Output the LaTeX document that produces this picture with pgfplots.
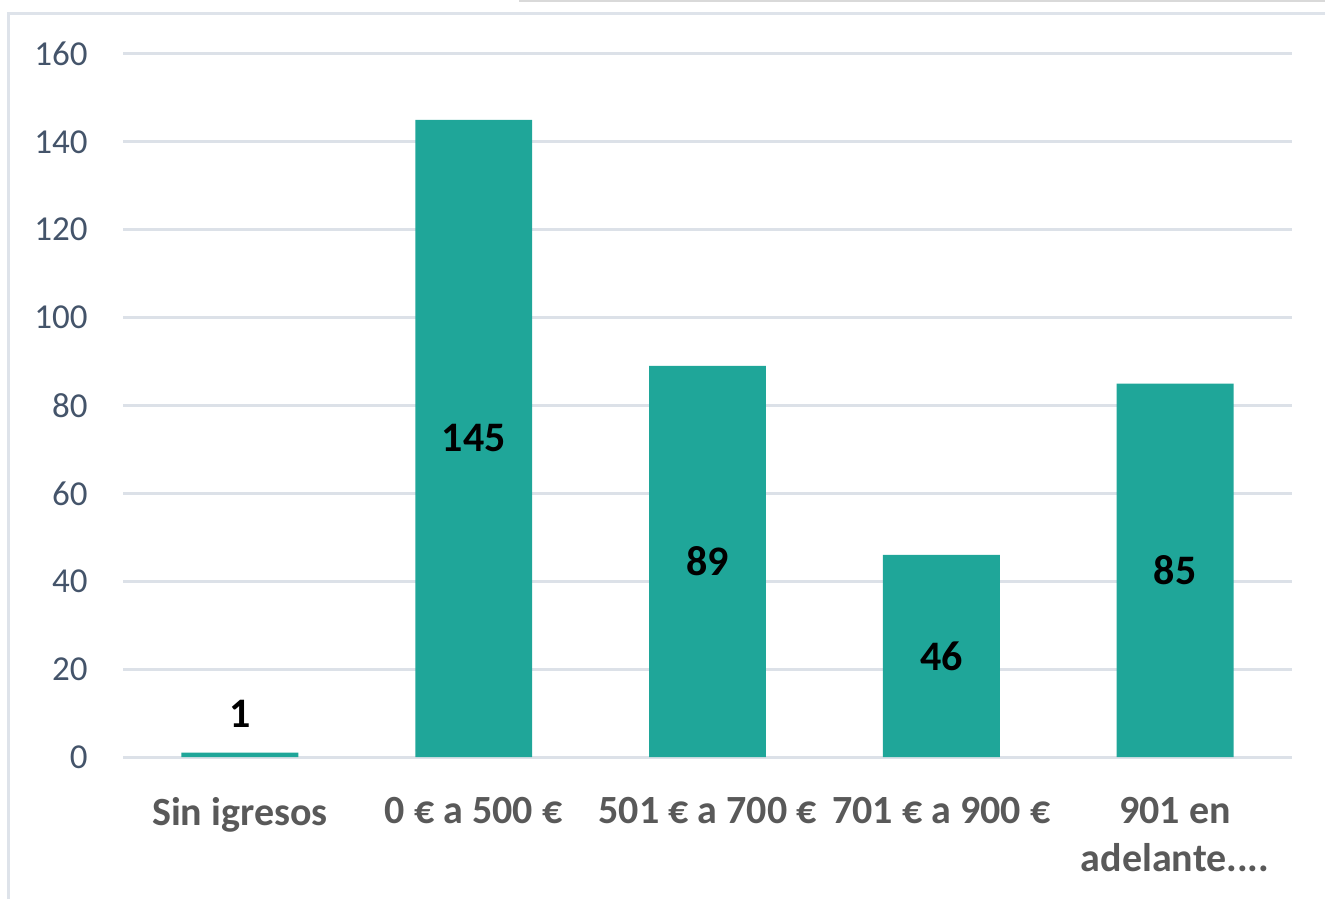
\documentclass[border=0pt]{standalone}
\usepackage{pgfplots}
\pgfplotsset{compat=1.18}
\usepackage{fontspec}
\setmainfont{Carlito}
\definecolor{barc}{HTML}{1FA699}
\definecolor{gridc}{HTML}{DCE1E8}
\definecolor{ytc}{HTML}{44546A}
\definecolor{xtc}{HTML}{595959}
\definecolor{framec}{HTML}{DEE3EA}
\begin{document}
\begin{tikzpicture}[x=1pt,y=1pt]
\useasboundingbox (0,0) rectangle (662.5,449.5);
\draw[framec, line width=1.5pt] (4,0) -- (4,442.5) -- (662.5,442.5);
\draw[gray!30, line width=1.5pt] (259.5,449) -- (662.5,449);
\begin{axis}[
  at={(61.5pt,71pt)}, anchor=south west,
  scale only axis, width=584.5pt, height=351.5pt,
  xmin=-0.5, xmax=4.5, ymin=0, ymax=160,
  ytick={0,20,40,60,80,100,120,140,160},
  xtick={0,1,2,3,4},
  xticklabels={Sin igresos,0 € a 500 €,501 € a 700 €,701 € a 900 €,{901 en\\adelante{.}{.}{.}{.}}},
  axis line style={draw=none},
  major tick length=0pt,
  ymajorgrids, major grid style={gridc, line width=1.5pt},
  /pgf/number format/assume math mode=true,
  yticklabel style={font=\fontsize{17.5}{21}\selectfont, text=ytc, anchor=east, inner sep=0pt, xshift=-17.5pt},
  xticklabel style={font=\fontsize{20}{24}\selectfont\bfseries, text=xtc, align=center, anchor=north, inner sep=0pt, yshift=-20pt},
  clip=false,
]
\addplot[ybar, bar width=0.5, fill=barc, draw=none, bar shift=0pt] coordinates {(0,1) (1,145) (2,89) (3,46) (4,85)};
\addplot[only marks, mark=none, nodes near coords, point meta=explicit symbolic,
  every node near coord/.style={anchor=center, inner sep=0pt, font=\fontsize{21}{25}\selectfont\bfseries, text=black}]
  table[meta=label] {
x y label
0 9.8 1
1 72.5 145
2 44.5 89
3 23 46
4 42.5 85
};
\end{axis}
\end{tikzpicture}
\end{document}
